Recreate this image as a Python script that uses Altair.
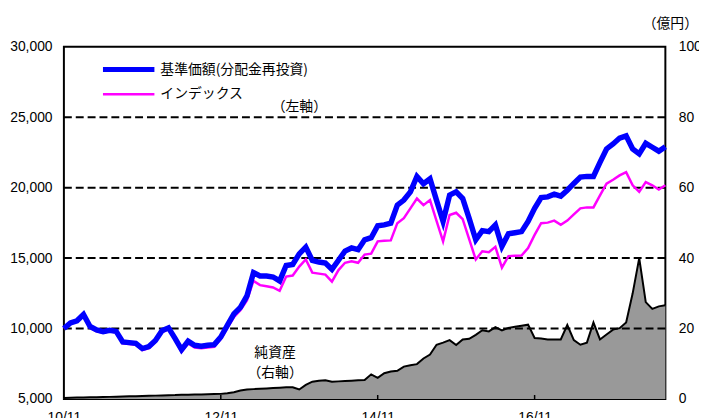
import altair as alt
import pandas as pd

# ---- data (monthly, Nov 2010 .. Jul 2018) ----
month_index = list(range(93))

nav = [10000, 10400, 10550, 11000, 10150, 9900, 9780, 9880, 9800, 9050,
       9000, 8950, 8580, 8720, 9150, 9850, 10050, 9300, 8500, 9100,
       8810, 8740, 8810, 8860, 9400, 10220, 11040, 11500, 12320, 13970,
       13730, 13730, 13660, 13380, 14480, 14550, 15300, 15780, 14830, 14720,
       14650, 14200, 14850, 15500, 15720, 15600, 16300, 16450, 17300, 17360,
       17480, 18760, 19120, 19700, 20800, 20280, 20630, 19100, 17600, 19470,
       19700, 19230, 17800, 16300, 16950, 16880, 17360, 15840, 16730, 16800,
       16880, 17600, 18530, 19300, 19350, 19540, 19400, 19820, 20300, 20750,
       20800, 20800, 21800, 22750, 23100, 23520, 23680, 22750, 22400, 23150,
       22870, 22590, 22910]

index_vals = [10000, 10400, 10500, 10950, 10050, 9800, 9700, 9800, 9720, 8950,
              8900, 8850, 8470, 8600, 9050, 9750, 9950, 9200, 8330, 8950,
              8650, 8600, 8650, 8700, 9250, 10050, 10800, 11300, 12000, 13380,
              13080, 13000, 12920, 12680, 13690, 13760, 14400, 14900, 13970, 13900,
              13830, 13330, 14150, 14670, 14780, 14670, 15250, 15320, 16190, 16230,
              16260, 17480, 17830, 18530, 19230, 18760, 19120, 17650, 16190, 18060,
              18220, 17760, 16330, 14900, 15490, 15420, 15800, 14320, 15140, 15160,
              15180, 15720, 16650, 17480, 17520, 17660, 17360, 17660, 18100, 18530,
              18600, 18600, 19450, 20280, 20560, 20870, 21100, 20170, 19700, 20400,
              20170, 19870, 20170]

net_assets = [0.3, 0.35, 0.4, 0.45, 0.5, 0.5, 0.55, 0.6, 0.65, 0.7,
              0.75, 0.8, 0.85, 0.9, 0.95, 1.0, 1.05, 1.1, 1.2, 1.2,
              1.25, 1.3, 1.35, 1.4, 1.45, 1.6, 1.9, 2.4, 2.7, 2.8,
              2.9, 3.0, 3.1, 3.2, 3.3, 3.3, 2.7, 4.0, 4.9, 5.2,
              5.3, 4.9, 5.0, 5.1, 5.2, 5.3, 5.4, 7.0, 6.0, 7.3,
              7.8, 8.0, 9.2, 9.6, 9.9, 11.5, 12.6, 15.4, 16.0, 16.7,
              15.3, 16.9, 17.1, 18.2, 19.5, 19.2, 20.4, 19.5, 20.2, 20.5,
              20.8, 21.1, 17.3, 17.2, 16.9, 16.9, 16.9, 21.0, 16.7, 15.4,
              16.0, 21.7, 16.9, 18.3, 19.7, 20.1, 21.7, 30.0, 40.0, 27.5,
              25.6, 26.3, 26.6]

x_tick_values = [0, 24, 48, 72]
x_tick_labels = ["10/11", "12/11", "14/11", "16/11"]
left_ticks = [5000, 10000, 15000, 20000, 25000, 30000]
right_ticks = [0, 20, 40, 60, 80, 100]
grid_levels = [10000, 15000, 20000, 25000]

df = pd.DataFrame({"i": month_index, "nav": nav, "idx": index_vals, "net": net_assets})
grid_df = pd.DataFrame({"g": grid_levels})
tick_df = pd.DataFrame({"t": x_tick_values[1:]})

W, H = 608, 356
NUM_FONT = "Liberation Sans"
JP_FONT = "Noto Sans CJK JP"
LAB = 14

label_expr = " : ".join(f"datum.value == {v} ? '{l}'" for v, l in zip(x_tick_values, x_tick_labels)) + " : ''"

x_scale = alt.Scale(domain=[0, 92], nice=False, zero=False)
x_axis = alt.Axis(values=x_tick_values, labelExpr=label_expr, ticks=False, domain=False,
                  grid=False, title=None, labelFont=NUM_FONT, labelFontSize=LAB,
                  labelPadding=12, labelColor="black", labelBaseline="top",
                  labelFlush=False, labelOverlap=False, labelBound=False)
X = alt.X("i:Q", scale=x_scale, axis=x_axis)

left_scale = alt.Scale(domain=[5000, 30000], nice=False, zero=False)
left_axis = alt.Axis(orient="left", values=left_ticks, labelExpr="format(datum.value, ',')",
                     ticks=False, domain=False, grid=False, title=None,
                     labelFont=NUM_FONT, labelFontSize=LAB, labelPadding=12,
                     labelColor="black", labelFlush=False, labelOverlap=False)
right_scale = alt.Scale(domain=[0, 100], nice=False, zero=True)
right_axis = alt.Axis(orient="right", values=right_ticks, ticks=False, domain=False,
                      grid=False, title=None, labelFont=NUM_FONT, labelFontSize=LAB,
                      labelPadding=13, labelColor="black", labelFlush=False,
                      labelOverlap=False)

area = alt.Chart(df).mark_area(
    color="#999999", line={"color": "black", "strokeWidth": 2}, opacity=1
).encode(x=X, y=alt.Y("net:Q", scale=right_scale, axis=right_axis))

grid = alt.Chart(grid_df).mark_rule(color="black", strokeWidth=2, strokeDash=[8, 4]).encode(
    y=alt.Y("g:Q", scale=left_scale, axis=left_axis))

pink = alt.Chart(df).mark_line(color="#FF00FF", strokeWidth=2.5).encode(
    x=X, y=alt.Y("idx:Q", scale=left_scale, axis=left_axis))

blue = alt.Chart(df).mark_line(color="#0000FF", strokeWidth=5.5).encode(
    x=X, y=alt.Y("nav:Q", scale=left_scale, axis=left_axis))

xticks = alt.Chart(tick_df).mark_rule(color="black", strokeWidth=1.5).encode(
    x=alt.X("t:Q", scale=x_scale, axis=x_axis), y=alt.value(H - 4), y2=alt.value(H))

left_group = alt.layer(grid, pink, blue, xticks)

# legend and annotations
leg = pd.DataFrame({
    "label": ["基準価額(分配金再投資)", "インデックス"],
    "color": ["#0000FF", "#FF00FF"],
})
leg_blue_line = alt.Chart(leg.iloc[[0]]).mark_rule(color="#0000FF", strokeWidth=5).encode(
    x=alt.value(39.5), x2=alt.value(91.5), y=alt.value(23))
leg_pink_line = alt.Chart(leg.iloc[[1]]).mark_rule(color="#FF00FF", strokeWidth=2.5).encode(
    x=alt.value(39.5), x2=alt.value(91.5), y=alt.value(48))
leg_blue_text = alt.Chart(leg.iloc[[0]]).mark_text(
    align="left", baseline="middle", font=JP_FONT, fontSize=14, color="black"
).encode(text="label:N", x=alt.value(97.5), y=alt.value(23))
leg_pink_text = alt.Chart(leg.iloc[[1]]).mark_text(
    align="left", baseline="middle", font=JP_FONT, fontSize=14, color="black"
).encode(text="label:N", x=alt.value(97.5), y=alt.value(48))

notes = pd.DataFrame({
    "text": ["（左軸）", "純資産", "（右軸）", "（億円）"],
    "px": [238, 213.5, 213.5, 613],
    "py": [61, 310, 330, -23],
})
note_marks = [
    alt.Chart(notes.iloc[[k]]).mark_text(
        align="center", baseline="middle", font=JP_FONT, fontSize=14, color="black"
    ).encode(text="text:N", x=alt.value(float(notes.px[k])), y=alt.value(float(notes.py[k])))
    for k in range(len(notes))
]

chart = alt.layer(
    area, left_group, leg_blue_line, leg_pink_line, leg_blue_text, leg_pink_text, *note_marks
).resolve_scale(y="independent").properties(
    width=W, height=H,
    padding={"left": 56.5, "top": 37, "right": 34, "bottom": 17},
    autosize=alt.AutoSizeParams(type="none"),
    background="white",
).configure_view(stroke="black", strokeWidth=2)

chart.save("out.html", embed_options={"renderer": "svg", "actions": False})
